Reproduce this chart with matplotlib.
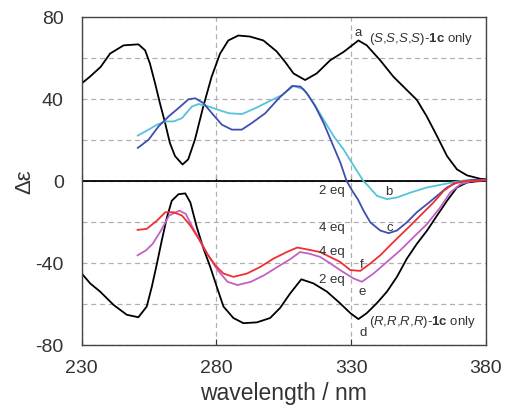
import matplotlib
matplotlib.use("Agg")
import matplotlib.pyplot as plt
from matplotlib.ticker import MultipleLocator, NullFormatter

plt.rcParams['font.family'] = ['Liberation Sans', 'DejaVu Sans']
plt.rcParams['mathtext.fontset'] = 'custom'
plt.rcParams['mathtext.rm'] = 'Liberation Sans'
plt.rcParams['mathtext.it'] = 'Liberation Sans:italic'
plt.rcParams['mathtext.bf'] = 'Liberation Sans:bold'
plt.rcParams['axes.unicode_minus'] = False

x_ticks = [230, 280, 330, 380]
y_ticks = [-80, -40, 0, 40, 80]

# a: (S,S,S,S)-1c only
wl_a = [230, 233, 237, 240.5, 245.5, 251, 253.5, 255.3, 257.2, 259, 260.9, 262.7, 264.6,
        267.4, 269.5, 272, 275.1, 278.2, 281.3, 284.4, 288.1, 292.4, 297.4, 302.3, 305.5,
        308.6, 312.9, 317.2, 322.2, 327.2, 332.7, 335.8, 340.8, 345.7, 350.7, 354.4, 358.1,
        361.9, 365.6, 369.3, 373, 378, 380]
cd_a = [47.6, 50.8, 55.6, 62.1, 66.1, 66.6, 63.7, 57.2, 47.6, 37.9, 28.4, 18.5, 12.1,
        8.0, 10.5, 20.1, 36.3, 50.8, 62, 68.5, 70.9, 70.4, 68.5, 63.2, 58,
        52.4, 49.2, 52.4, 58.8, 62.9, 68.5, 66.1, 58.8, 50.8, 44.3, 39.5, 31.4,
        21.8, 12.1, 5.6, 2.7, 1.0, 0.8]

# d: (R,R,R,R)-1c only
wl_d = [230, 233.1, 236.8, 241.8, 246.7, 251, 254.1, 256, 257.9, 259.7, 261.6, 263.4, 265.9,
        268.4, 270.3, 272.7, 275.2, 277.7, 280.1, 282.6, 286.3, 290, 295, 299.9, 303.6,
        307.3, 311.5, 316, 321, 325.9, 329.7, 332.7, 335.8, 339.5, 343.3, 347, 350.7,
        354.4, 358.2, 361.9, 365.6, 369.3, 373, 378, 380]
cd_d = [-45.2, -50, -54, -60.5, -65.3, -66.5, -61.3, -51.6, -40.3, -29, -17.8, -9.7, -6.5,
        -6.1, -10.5, -22.6, -33.1, -42, -51.6, -61.3, -66.9, -69.4, -69, -66.9, -62,
        -55, -48, -50, -54, -59.7, -64.5, -67.4, -64.5, -59.7, -54, -46.8, -37.9,
        -30.7, -24.2, -16.9, -9.7, -3.2, -0.8, 0, 0]

# b: S + 2 eq
wl_b = [250.8, 254.8, 257.9, 261, 264.1, 267.2, 270.9, 273.4, 277.1, 280.8, 284.6, 289.5,
        294.5, 299.4, 304.4, 308.6, 312.4, 316.1, 319.8, 323.5, 327.2, 330.9, 334.5, 336,
        339.6, 343.3, 347, 352, 358.2, 364.4, 370.6, 375, 380]
cd_b = [22.1, 25, 27.4, 29, 29, 30.6, 36.3, 37.5, 36.3, 34.6, 33.0, 32.6,
        35.5, 38.7, 41.9, 46.3, 44.7, 37.9, 29.8, 21.8, 15.3, 7.5, 0, -2,
        -7.3, -8.9, -8.1, -5.7, -3.2, -1.6, 0, 0.5, 0.5]

# c: S + 4 eq
wl_c = [250.8, 254.8, 258.5, 262.2, 265.9, 269.6, 272.1, 275.2, 278.3, 282, 285.7, 289.4,
        293.1, 298.1, 303.3, 308.1, 311.2, 313.6, 316.7, 319.8, 322.9, 326, 328.3, 330.5,
        332.5, 334.6, 337.1, 340.8, 343.9, 347, 350.7, 354.4, 358.2, 361.9, 365.6, 369.3,
        375, 380]
cd_c = [16.1, 20.1, 26.6, 31.4, 35.5, 39.8, 40.3, 37.9, 33.0, 27.4, 25.0, 25.0,
        28.2, 33.0, 40.5, 46.3, 46, 42.7, 36.3, 28.2, 18.5, 8.9, 0, -5,
        -9, -14.5, -20.2, -24.2, -25.5, -24.2, -20.2, -15.3, -11.3, -7.3, -3.2, -0.8,
        0.5, 0.5]

# f: R + 4 eq
wl_f = [250.7, 254.1, 257.9, 261, 264.1, 267.2, 270.3, 273.4, 276.5, 279.5, 282.6, 286.3,
        291.3, 296.2, 301.2, 306.1, 310, 314, 318.5, 322, 325.9, 329.7, 333.4, 337.1,
        340.8, 344.5, 348.2, 352, 355.7, 360.6, 364.4, 368.1, 373, 380]
cd_f = [-23.9, -23.4, -19.4, -15.3, -15.3, -16.9, -21.8, -28.2, -35.5, -41.1, -45.2, -46.8,
        -45.2, -42, -37.9, -34.7, -32.5, -33.5, -34.7, -37, -39.5, -43.5, -43.9, -40.3,
        -36.3, -31.4, -26.6, -21.8, -16.9, -10.5, -4.8, -1.2, 0, 0.3]

# e: R + 2 eq
wl_e = [250.7, 253.8, 256.3, 259.4, 262.4, 266.2, 268.6, 271.1, 274.2, 277.3, 280.4, 284.1,
        287.8, 292.8, 297.7, 302.6, 307.6, 311, 314.5, 318.5, 322, 325.9, 330.9, 334,
        338.3, 343.3, 348.2, 353.2, 358.2, 363.1, 366.8, 370.6, 375, 380]
cd_e = [-36.3, -33.9, -30.7, -24.2, -16.9, -14.5, -16.1, -22.6, -29.9, -37.1, -43.5, -49.2,
        -50.8, -49.2, -46, -42, -38, -34.7, -35.5, -37.1, -40, -43.5, -47.6, -49.2,
        -45.2, -39.5, -33.9, -27.4, -21, -12.9, -5.7, -1.6, 0, 0.3]

fig = plt.figure(figsize=(5.05, 4.06), dpi=100)
ax = fig.add_axes([0.162, 0.148, 0.8, 0.808])

ax.plot(wl_a, cd_a, color="black", lw=1.3)
ax.plot(wl_d, cd_d, color="black", lw=1.3)
ax.plot(wl_b, cd_b, color="#55c3d9", lw=1.3)
ax.plot(wl_c, cd_c, color="#3f4fae", lw=1.3)
ax.plot(wl_e, cd_e, color="#c062c4", lw=1.3)
ax.plot(wl_f, cd_f, color="#ee3030", lw=1.3)
ax.axhline(0, color="black", lw=1.3, zorder=1.5)

ax.set_xlim(230, 380)
ax.set_ylim(-80, 80)
ax.set_xticks(x_ticks)
ax.set_yticks(y_ticks)
ax.yaxis.set_minor_locator(MultipleLocator(20))
ax.grid(True, which="both", color="#b0b0b0", ls=(0, (4, 3)), lw=0.9)
ax.set_axisbelow(True)
ax.tick_params(axis="x", direction="in", length=4, pad=10, labelsize=14, colors="#333333")
ax.tick_params(axis="y", which="both", length=0, pad=13, labelsize=14, colors="#333333")
for sp in ax.spines.values():
    sp.set_color("#444444")
    sp.set_linewidth(1.0)

# small ticks on the zero line
sec = ax.secondary_xaxis(0.4999)
sec.set_xticks(x_ticks)
sec.xaxis.set_major_formatter(NullFormatter())
sec.tick_params(direction="in", length=4, colors="black")
sec.spines["bottom"].set_visible(False)

ax.set_xlabel("wavelength / nm", fontsize=16.5, color="#333333", labelpad=3.5)
ax.set_ylabel("Δε", fontsize=16, color="#333333", labelpad=0)

tc = "#333333"
fs = 9.5
ax.text(332.5, 72.5, "a", fontsize=fs, color=tc, ha="center", va="center")
ax.text(336.8, 69.5, r"($\mathit{S}$,$\mathit{S}$,$\mathit{S}$,$\mathit{S}$)-$\mathbf{1c}$ only",
        fontsize=fs, color=tc, ha="left", va="center")
ax.text(344, -4.8, "b", fontsize=fs, color=tc, ha="center", va="center")
ax.text(344.3, -22.6, "c", fontsize=fs, color=tc, ha="center", va="center")
ax.text(334, -40.5, "f", fontsize=fs, color=tc, ha="center", va="center")
ax.text(334, -53.6, "e", fontsize=fs, color=tc, ha="center", va="center")
ax.text(334.6, -73.5, "d", fontsize=fs, color=tc, ha="center", va="center")
ax.text(336.8, -68.5, r"($\mathit{R}$,$\mathit{R}$,$\mathit{R}$,$\mathit{R}$)-$\mathbf{1c}$ only",
        fontsize=fs, color=tc, ha="left", va="center")
ax.text(327.5, -4.5, "2 eq", fontsize=fs, color=tc, ha="right", va="center")
ax.text(327.5, -22.6, "4 eq", fontsize=fs, color=tc, ha="right", va="center")
ax.text(327.5, -34, "4 eq", fontsize=fs, color=tc, ha="right", va="center")
ax.text(327.5, -48, "2 eq", fontsize=fs, color=tc, ha="right", va="center")

fig.savefig("out.png", dpi=100)
